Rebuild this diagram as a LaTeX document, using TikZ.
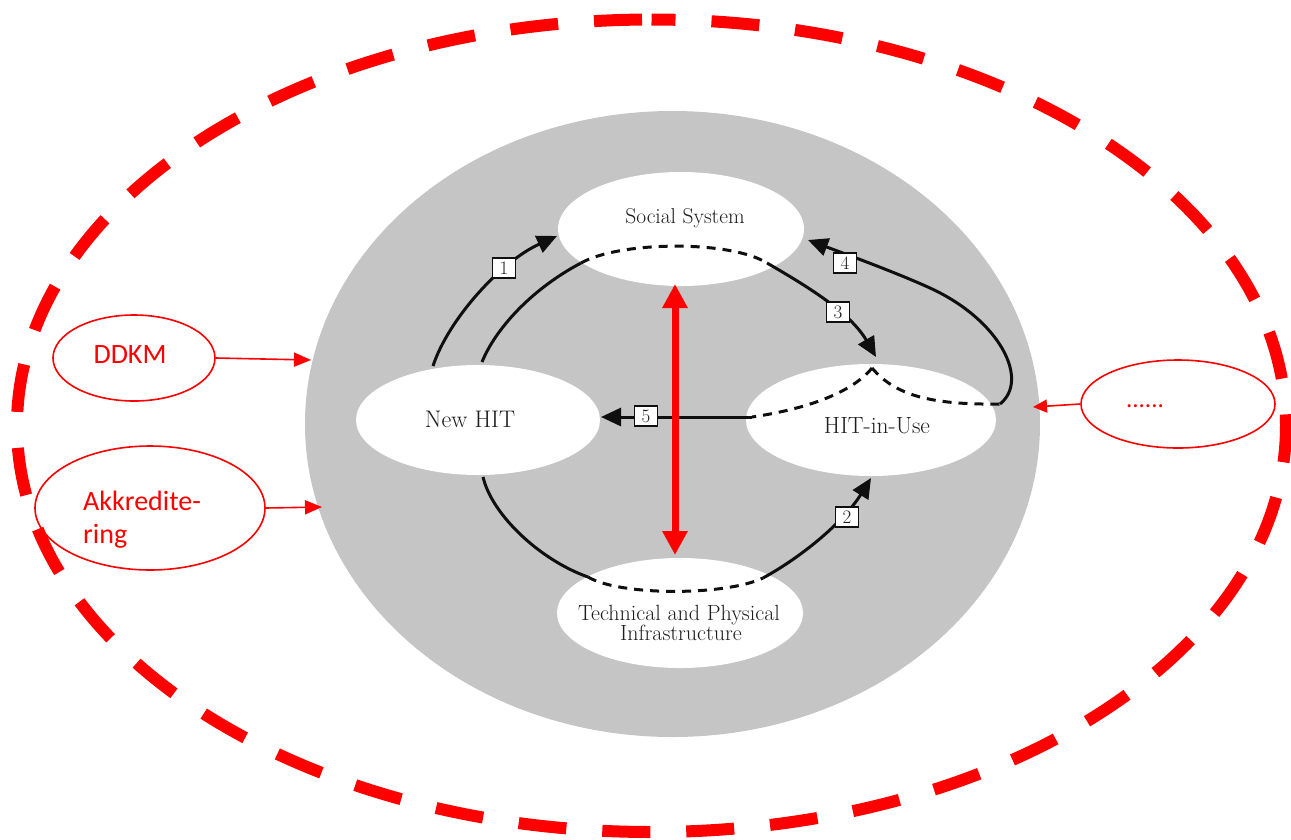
\documentclass[tikz,border=0pt]{standalone}
\usepackage{fontspec}
\newfontfamily\calib{Carlito}
\usetikzlibrary{shapes.geometric,arrows.meta}
\definecolor{bgray}{RGB}{197,197,197}
\definecolor{txtgray}{RGB}{30,30,30}
\definecolor{lblack}{RGB}{15,15,15}
\begin{document}
\begin{tikzpicture}[x=1pt,y=-1pt,
  wellipse/.style={ellipse, fill=white, inner sep=0pt},
  redell/.style={ellipse, draw=red, line width=1.6pt, inner sep=0pt},
  blk/.style={draw=lblack, line width=3pt},
  dsh/.style={blk, dash pattern=on 9pt off 7pt},
  btip/.style={-{Triangle[length=20pt,width=18pt]}},
  numbox/.style={draw=lblack, fill=white, line width=1.4pt, minimum width=23pt, minimum height=20pt, inner sep=0pt, font=\fontsize{19}{19}\selectfont, text=txtgray},
  gtxt/.style={anchor=base, text=txtgray, font=\fontsize{21.5}{21.5}\selectfont, inner sep=0pt},
  redtxt/.style={text=red, inner sep=0pt, font=\calib\fontsize{28}{33}\selectfont},
  redarr/.style={draw=red, line width=1.6pt, -{Triangle[length=17pt,width=14pt]}}
]
\useasboundingbox (0,0) rectangle (1291,839);

% grey disc and white nodes
\node[ellipse, fill=bgray, inner sep=0pt, minimum width=735pt, minimum height=626pt] (bg) at (672.5,424) {};
\node[wellipse, minimum width=246pt, minimum height=114pt] (soc) at (681,229) {};
\node[wellipse, minimum width=244pt, minimum height=110pt] (newhit) at (478,420) {};
\node[wellipse, minimum width=250pt, minimum height=112pt] (use) at (871,420) {};
\node[wellipse, minimum width=246pt, minimum height=110pt] (tech) at (680,613) {};

% junction coordinates
\coordinate (a1s) at (433,366);
\coordinate (a1e) at (557,236);
\coordinate (c1s) at (482,362);
\coordinate (c1e) at (581,263);
\coordinate (c2e) at (767,263);
\coordinate (a3e) at (876,357);
\coordinate (apex) at (872,368);
\coordinate (j5) at (752,417);
\coordinate (a5e) at (601,417);
\coordinate (j4) at (1000,404);
\coordinate (a4e) at (808,240);
\coordinate (c3s) at (483,477);
\coordinate (c3e) at (588,577);
\coordinate (c4e) at (763,578);
\coordinate (a2e) at (871,478);

% black connectors
\draw[blk, btip] (a1s) .. controls (448,320) and (500,262) .. (a1e);
\draw[blk] (c1s) .. controls (495,330) and (530,290) .. (c1e);
\draw[dsh] (c1e) .. controls (620,241) and (730,240) .. (c2e);
\draw[blk, btip] (c2e) .. controls (805,285) and (850,312) .. (a3e);
\draw[dsh] (apex) .. controls (850,395) and (800,410) .. (j5);
\draw[dsh] (apex) .. controls (895,395) and (930,405) .. (j4);
\draw[blk, btip] (j5) -- (a5e);
\draw[blk, btip] (j4) .. controls (1030,380) and (1000,320) .. (930,288)
                      .. controls (895,272) and (840,252) .. (a4e);
\draw[blk] (c3s) .. controls (492,515) and (540,560) .. (c3e);
\draw[dsh] (c3e) .. controls (620,596) and (725,596) .. (c4e);
\draw[blk, btip] (c4e) .. controls (805,555) and (845,520) .. (a2e);

% number boxes
\node[numbox] (n1) at (504,268) {1};
\node[numbox] (n2) at (847,517) {2};
\node[numbox] (n3) at (838,312) {3};
\node[numbox] (n4) at (845,263) {4};
\node[numbox] (n5) at (646,416) {5};

% texts in the white ellipses
\node[gtxt] (socT) at (685,223) {Social System};
\node[gtxt, font=\fontsize{24}{24}\selectfont] (newT) at (470,427) {New HIT};
\node[gtxt, font=\fontsize{23.5}{23.5}\selectfont] (useT) at (877,433) {HIT-in-Use};
\node[gtxt, font=\fontsize{22}{22}\selectfont] (techT1) at (679,620) {Technical and Physical};
\node[gtxt, font=\fontsize{22}{22}\selectfont] (techT2) at (681,640) {Infrastructure};

% red double arrow
\coordinate (rt) at (675,284);
\coordinate (rb) at (675,555);
\draw[red, line width=7pt, {Triangle[length=24pt,width=24pt]}-{Triangle[length=24pt,width=24pt]}] (rt) -- (rb);

% red annotation ellipses
\node[redell, minimum width=162pt, minimum height=86pt] (ddkm) at (134,358) {};
\node[redtxt, anchor=base] (ddkmT) at (130,363) {DDKM};
\coordinate (t1) at (311,360);
\draw[redarr] (ddkm.east) -- (t1);

\node[redell, minimum width=230pt, minimum height=124pt] (akk) at (150,508) {};
\node[redtxt, anchor=base west] (akkT1) at (83,510) {Akkredite-};
\node[redtxt, anchor=base west] (akkT2) at (83,543) {ring};
\coordinate (t2) at (322,507);
\draw[redarr] (akk.east) -- (t2);

\node[redell, minimum width=194pt, minimum height=88pt] (dots) at (1178,404) {};
\node[redtxt, anchor=base, font=\calib\fontsize{25}{30}\selectfont] (dotsT) at (1145,407) {......};
\coordinate (t3) at (1033,407);
\draw[redarr, -{Triangle[length=14pt,width=13pt]}] (dots.west) -- (t3);

% big dashed red ellipse
\draw[red, line width=12pt, dash pattern=on 48pt off 36pt, dash phase=24pt]
  (651.5,19.5) arc[start angle=-90, end angle=270, x radius=634.5, y radius=406.25];
\end{tikzpicture}
\end{document}
